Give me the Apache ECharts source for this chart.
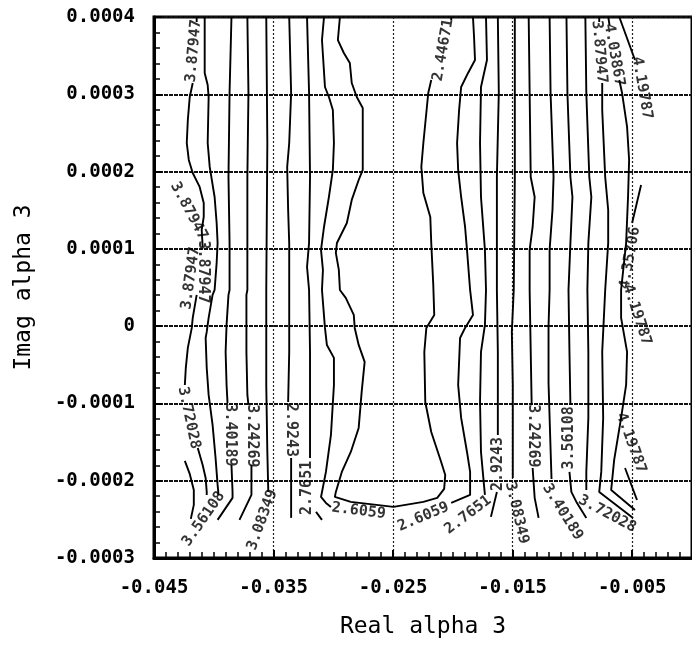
<!DOCTYPE html>
<html>
<head>
<meta charset="utf-8">
<script src="https://cdn.jsdelivr.net/npm/echarts/dist/echarts.min.js"></script>
<style>
html, body { margin: 0; padding: 0; background: #fff; }
#chart { width: 692px; height: 646px; }
</style>
</head>
<body>
<div id="chart"></div>
<script>
// Axis ranges and tick labels
const xRange = [-0.045, 0];
const xStep = 0.01;
const xTickLabels = ['-0.045', '-0.035', '-0.025', '-0.015', '-0.005', '0.005'];
const yRange = [-0.0003, 0.0004];
const yStep = 0.0001;
const yTickLabels = ['-0.0003', '-0.0002', '-0.0001', '0', '0.0001', '0.0002', '0.0003', '0.0004'];

// Contour polylines, one array per level; each level holds one or more [x, y] paths
const lvl387947West = [
  [[-0.04143, 4.000e-4], [-0.04143, 3.935e-4]],
  [[-0.04176, 3.146e-4], [-0.04201, 2.965e-4], [-0.04217, 2.668e-4], [-0.04226, 2.370e-4], [-0.04209, 2.150e-4],
   [-0.04176, 1.982e-4], [-0.04118, 1.801e-4], [-0.04084, 1.594e-4], [-0.04084, 1.413e-4], [-0.04101, 1.245e-4], [-0.04093, 1.025e-4]],
  [[-0.04242, -1.744e-4], [-0.04201, -1.912e-4], [-0.04167, -2.119e-4], [-0.04167, -2.313e-4], [-0.04192, -2.494e-4]]
];
const lvl372028West = [
  [[-0.04143, 0.404e-4], [-0.04176, 0.106e-4], [-0.04184, -0.023e-4], [-0.04217, -0.282e-4], [-0.04234, -0.541e-4], [-0.04242, -0.761e-4]],
  [[-0.04134, -1.576e-4], [-0.04093, -1.796e-4], [-0.04068, -1.964e-4], [-0.04059, -2.145e-4], [-0.04059, -2.184e-4]]
];
const lvl356108West = [
  [[-0.04076, 4.000e-4], [-0.04076, 3.276e-4], [-0.04051, 3.120e-4], [-0.04043, 2.965e-4], [-0.04051, 2.370e-4], [-0.04034, 2.060e-4],
   [-0.03993, 1.671e-4], [-0.03976, 1.335e-4], [-0.03968, 1.076e-4], [-0.03976, 0.818e-4], [-0.03993, 0.468e-4], [-0.04010, 0.404e-4],
   [-0.04043, 0.106e-4], [-0.04059, -0.075e-4], [-0.04068, -0.153e-4], [-0.04059, -0.541e-4], [-0.04043, -0.890e-4], [-0.04010, -1.278e-4],
   [-0.03985, -1.706e-4], [-0.03968, -2.054e-4], [-0.03960, -2.184e-4]]
];
const lvl340189West = [
  [[-0.03852, 4.000e-4], [-0.03868, 3.017e-4], [-0.03877, 1.930e-4], [-0.03868, 1.076e-4], [-0.03868, 0.468e-4], [-0.03877, 0.404e-4],
   [-0.03893, 0.016e-4], [-0.03901, -0.334e-4], [-0.03893, -0.761e-4], [-0.03885, -0.994e-4]],
  [[-0.03852, -1.796e-4], [-0.03843, -2.145e-4], [-0.03843, -2.222e-4], [-0.03968, -2.507e-4]]
];
const lvl324269West = [
  [[-0.03719, 4.000e-4], [-0.03710, 3.017e-4], [-0.03719, 1.930e-4], [-0.03719, 0.468e-4], [-0.03727, 0.404e-4], [-0.03727, -0.334e-4],
   [-0.03719, -0.890e-4], [-0.03710, -1.019e-4]],
  [[-0.03685, -1.796e-4], [-0.03685, -2.184e-4], [-0.03785, -2.507e-4]]
];
const lvl308349West = [
  [[-0.03561, 4.000e-4], [-0.03552, 2.370e-4], [-0.03561, 0.468e-4], [-0.03561, -0.761e-4], [-0.03552, -1.628e-4], [-0.03544, -2.145e-4]]
];
const lvl29243West = [
  [[-0.03369, 4.000e-4], [-0.03353, 3.017e-4], [-0.03369, 2.370e-4], [-0.03386, 2.060e-4], [-0.03378, 1.503e-4], [-0.03369, 1.076e-4],
   [-0.03369, 0.468e-4], [-0.03369, -0.334e-4], [-0.03378, -0.981e-4]],
  [[-0.03353, -1.706e-4], [-0.03353, -2.481e-4]]
];
const lvl27651West = [
  [[-0.03220, 4.000e-4], [-0.03203, 3.017e-4], [-0.03195, 1.930e-4], [-0.03203, 1.076e-4], [-0.03220, 0.766e-4], [-0.03203, 0.468e-4],
   [-0.03195, -0.334e-4], [-0.03195, -1.188e-4], [-0.03195, -1.706e-4]],
  [[-0.03145, -2.404e-4], [-0.03095, -2.507e-4]]
];
const lvl26059West = [
  [[-0.03078, 4.000e-4], [-0.03095, 3.702e-4], [-0.03070, 3.094e-4], [-0.03037, 2.965e-4], [-0.03004, 2.797e-4], [-0.02995, 2.370e-4],
   [-0.03004, 2.021e-4], [-0.03037, 1.671e-4], [-0.03078, 1.283e-4], [-0.03103, 0.986e-4], [-0.03087, 0.727e-4], [-0.03095, 0.468e-4],
   [-0.03070, -0.023e-4], [-0.03054, -0.243e-4], [-0.02995, -0.411e-4], [-0.02995, -0.761e-4], [-0.03020, -1.408e-4], [-0.03062, -1.886e-4],
   [-0.03103, -2.210e-4], [-0.03062, -2.287e-4], [-0.03020, -2.340e-4]]
];
const lvl244671 = [
  [[-0.02945, 4.000e-4], [-0.02962, 3.702e-4], [-0.02912, 3.534e-4], [-0.02862, 3.405e-4], [-0.02846, 3.146e-4], [-0.02804, 2.965e-4],
   [-0.02754, 2.823e-4], [-0.02754, 2.021e-4], [-0.02788, 1.891e-4], [-0.02846, 1.633e-4], [-0.02887, 1.335e-4], [-0.02970, 1.076e-4],
   [-0.02979, 0.947e-4], [-0.02954, 0.727e-4], [-0.02945, 0.468e-4], [-0.02896, 0.365e-4], [-0.02829, 0.145e-4], [-0.02821, -0.023e-4],
   [-0.02788, -0.243e-4], [-0.02738, -0.463e-4], [-0.02763, -0.851e-4], [-0.02788, -1.317e-4], [-0.02854, -1.628e-4], [-0.02929, -1.886e-4],
   [-0.02979, -2.145e-4], [-0.02987, -2.210e-4], [-0.02854, -2.274e-4], [-0.02497, -2.339e-4], [-0.02247, -2.274e-4], [-0.02131, -2.222e-4],
   [-0.02073, -2.106e-4], [-0.02064, -1.925e-4], [-0.02098, -1.757e-4], [-0.02181, -1.369e-4], [-0.02231, -0.981e-4], [-0.02239, -0.334e-4],
   [-0.02222, -0.023e-4], [-0.02156, 0.145e-4], [-0.02164, 0.533e-4], [-0.02181, 1.076e-4], [-0.02189, 1.413e-4], [-0.02247, 1.723e-4],
   [-0.02264, 2.060e-4], [-0.02247, 2.370e-4], [-0.02206, 3.017e-4], [-0.02181, 3.185e-4]],
  [[-0.02014, 3.961e-4], [-0.02014, 4.000e-4]]
];
const lvl26059East = [
  [[-0.01832, 4.000e-4], [-0.01823, 3.741e-4], [-0.01815, 3.444e-4], [-0.01873, 3.276e-4], [-0.01931, 3.094e-4], [-0.01948, 2.797e-4],
   [-0.01965, 2.370e-4], [-0.01956, 2.021e-4], [-0.01931, 1.671e-4], [-0.01898, 1.283e-4], [-0.01882, 0.986e-4], [-0.01856, 0.468e-4],
   [-0.01832, 0.145e-4], [-0.01898, -0.023e-4], [-0.01940, -0.153e-4], [-0.01956, -0.761e-4], [-0.01931, -1.188e-4], [-0.01882, -1.628e-4],
   [-0.01856, -1.886e-4], [-0.01856, -2.184e-4], [-0.02014, -2.287e-4]]
];
const lvl27651East = [
  [[-0.01723, 4.000e-4], [-0.01715, 3.444e-4], [-0.01765, 3.094e-4], [-0.01773, 2.370e-4], [-0.01765, 1.671e-4], [-0.01732, 0.986e-4],
   [-0.01723, 0.468e-4], [-0.01732, 0.016e-4], [-0.01765, -0.334e-4], [-0.01773, -0.981e-4], [-0.01765, -1.628e-4], [-0.01740, -2.054e-4],
   [-0.01732, -2.184e-4]]
];
const lvl29243East = [
  [[-0.01624, 4.000e-4], [-0.01616, 3.017e-4], [-0.01632, 1.930e-4], [-0.01632, 0.468e-4], [-0.01624, -0.334e-4], [-0.01624, -1.408e-4]],
  [[-0.01632, -2.145e-4], [-0.01682, -2.468e-4]]
];
const lvl308349East = [
  [[-0.01482, 4.000e-4], [-0.01482, 3.017e-4], [-0.01482, 1.930e-4], [-0.01491, 0.468e-4], [-0.01507, -0.075e-4], [-0.01499, -0.761e-4],
   [-0.01499, -1.964e-4]]
];
const lvl324269East = [
  [[-0.01366, 4.000e-4], [-0.01358, 3.017e-4], [-0.01349, 1.930e-4], [-0.01316, 1.671e-4], [-0.01333, 1.283e-4], [-0.01358, 0.986e-4],
   [-0.01358, 0.468e-4], [-0.01349, -0.334e-4], [-0.01341, -1.019e-4]],
  [[-0.01333, -1.835e-4], [-0.01316, -2.222e-4], [-0.01283, -2.481e-4]]
];
const lvl340189East = [
  [[-0.01191, 4.000e-4], [-0.01183, 3.017e-4], [-0.01158, 1.930e-4], [-0.01167, 1.503e-4], [-0.01191, 0.986e-4], [-0.01191, 0.468e-4],
   [-0.01200, 0.000e-4], [-0.01200, -0.735e-4], [-0.01183, -1.589e-4], [-0.01175, -1.977e-4]]
];
const lvl356108East = [
  [[-0.01050, 4.000e-4], [-0.01042, 3.017e-4], [-0.01017, 1.930e-4], [-0.01000, 1.671e-4], [-0.01017, 1.076e-4], [-0.01033, 0.468e-4],
   [-0.01025, -0.334e-4], [-0.01017, -1.019e-4]],
  [[-0.01025, -1.886e-4], [-0.01009, -2.145e-4], [-0.00967, -2.274e-4], [-0.00884, -2.481e-4]]
];
const lvl372028East = [
  [[-0.00892, 4.000e-4], [-0.00884, 3.017e-4], [-0.00859, 1.930e-4], [-0.00842, 1.671e-4], [-0.00867, 1.076e-4], [-0.00875, 0.468e-4],
   [-0.00867, -0.334e-4], [-0.00867, -1.188e-4], [-0.00884, -1.886e-4], [-0.00884, -2.119e-4]]
];
const lvl387947East = [
  [[-0.00776, 4.000e-4], [-0.00776, 3.935e-4]],
  [[-0.00751, 3.146e-4], [-0.00751, 2.797e-4], [-0.00726, 1.930e-4], [-0.00701, 1.503e-4], [-0.00701, 1.076e-4], [-0.00726, 0.468e-4],
   [-0.00751, -0.334e-4], [-0.00743, -1.188e-4], [-0.00759, -1.886e-4], [-0.00776, -2.145e-4], [-0.00493, -2.481e-4]]
];
const lvl403867 = [
  [[-0.00700, 4.000e-4], [-0.00690, 3.896e-4]],
  [[-0.00608, 3.185e-4], [-0.00585, 3.017e-4], [-0.00543, 2.577e-4], [-0.00526, 2.150e-4], [-0.00535, 1.671e-4], [-0.00551, 1.076e-4],
   [-0.00593, 0.468e-4], [-0.00593, 0.106e-4], [-0.00543, -0.334e-4], [-0.00551, -0.761e-4], [-0.00593, -1.188e-4], [-0.00651, -1.731e-4],
   [-0.00676, -2.119e-4], [-0.00477, -2.378e-4]]
];
const lvl419787 = [
  [[-0.00608, 4.000e-4], [-0.00477, 3.444e-4]],
  [[-0.00560, -1.835e-4], [-0.00460, -2.250e-4]]
];
const lvl435706 = [
  [[-0.00426, 1.827e-4], [-0.00501, 1.335e-4]]
];

// Level labels: [x, y, text]
const contourLabels = [
  [-0.04168, 3.560e-4, '3.87947'],
  [-0.04209, 1.490e-4, '3.87947'],
  [-0.04192, 0.620e-4, '3.87947'],
  [-0.04093, 0.700e-4, '3.87947'],
  [-0.04209, -1.188e-4, '3.72028'],
  [-0.04084, -2.494e-4, '3.56108'],
  [-0.03868, -1.408e-4, '3.40189'],
  [-0.03685, -1.421e-4, '3.24269'],
  [-0.03594, -2.507e-4, '3.08349'],
  [-0.03353, -1.343e-4, '2.9243'],
  [-0.03220, -2.093e-4, '2.7651'],
  [-0.02788, -2.391e-4, '2.6059'],
  [-0.02081, 3.573e-4, '2.44671'],
  [-0.02247, -2.468e-4, '2.6059'],
  [-0.01873, -2.443e-4, '2.7651'],
  [-0.01624, -1.783e-4, '2.9243'],
  [-0.01466, -2.417e-4, '3.08349'],
  [-0.01333, -1.421e-4, '3.24269'],
  [-0.01083, -2.404e-4, '3.40189'],
  [-0.01025, -1.446e-4, '3.56108'],
  [-0.00709, -2.430e-4, '3.72028'],
  [-0.00776, 3.547e-4, '3.87947'],
  [-0.00651, 3.508e-4, '4.03867'],
  [-0.00418, 3.081e-4, '4.19787'],
  [-0.00518, 0.882e-4, '4.35706'],
  [-0.00460, 0.145e-4, '4.19787'],
  [-0.00510, -1.511e-4, '4.19787']
];
// Text angle of each label (degrees, counter-clockwise)
const contourLabelAngles = [85, -62, 82, -90, -78, 55, -90, -90, 70, -90, 90, -7, 80, 23, 37, 90, -77, -90, -58, 90, -28, -85, -80, -80, 80, -72, -70];

const contourLevels = [
  lvl387947West, lvl372028West, lvl356108West, lvl340189West, lvl324269West, lvl308349West,
  lvl29243West, lvl27651West, lvl26059West, lvl244671, lvl26059East, lvl27651East, lvl29243East,
  lvl308349East, lvl324269East, lvl340189East, lvl356108East, lvl372028East, lvl387947East,
  lvl403867, lvl419787, lvl435706
];

const monoFont = "'DejaVu Sans Mono', 'Liberation Mono', monospace";

const series = [];
contourLevels.forEach(level => {
  level.forEach(path => {
    series.push({
      type: 'line',
      data: path,
      showSymbol: false,
      symbol: 'none',
      silent: true,
      animation: false,
      clip: true,
      lineStyle: { color: '#000', width: 1.9 },
      z: 3
    });
  });
});

series.push({
  type: 'scatter',
  silent: true,
  animation: false,
  symbolSize: 1,
  itemStyle: { color: 'rgba(0,0,0,0)' },
  z: 4,
  data: contourLabels.map((d, i) => ({
    value: [d[0], d[1]],
    label: {
      show: true,
      position: 'inside',
      formatter: d[2],
      rotate: contourLabelAngles[i],
      fontFamily: monoFont,
      fontWeight: 'bold',
      fontSize: 15,
      color: '#000'
    }
  }))
});

const chart = echarts.init(document.getElementById('chart'), null, { renderer: 'canvas' });
chart.setOption({
  animation: false,
  backgroundColor: '#fff',
  grid: {
    left: 154, top: 17, width: 540, height: 541,
    show: true, borderColor: '#000', borderWidth: 3, backgroundColor: 'transparent'
  },
  xAxis: {
    type: 'value',
    min: xRange[0], max: xRange[1], interval: xStep,
    name: 'Real alpha 3',
    nameLocation: 'middle',
    nameGap: 58,
    nameTextStyle: { fontFamily: monoFont, fontSize: 23, color: '#000' },
    axisLine: { show: true, onZero: false, lineStyle: { color: '#000', width: 3 } },
    axisTick: { show: true, inside: true, length: 8, lineStyle: { color: '#000', width: 2 } },
    minorTick: { show: true, splitNumber: 10, length: 6, lineStyle: { color: '#000', width: 1.5 } },
    splitLine: { show: true, lineStyle: { color: '#222', width: 1.2, type: [2, 2] } },
    axisLabel: {
      margin: 21, showMaxLabel: false,
      fontFamily: monoFont, fontWeight: 'bold', fontSize: 19, color: '#000',
      formatter: v => xTickLabels[Math.round((v - xRange[0]) / xStep)]
    }
  },
  yAxis: {
    type: 'value',
    min: yRange[0], max: yRange[1], interval: yStep,
    name: 'Imag alpha 3',
    nameLocation: 'middle',
    nameGap: 118,
    nameTextStyle: { fontFamily: monoFont, fontSize: 23, color: '#000' },
    axisLine: { show: true, onZero: false, lineStyle: { color: '#000', width: 3 } },
    axisTick: { show: true, inside: true, length: 8, lineStyle: { color: '#000', width: 2 } },
    minorTick: { show: true, splitNumber: 5, length: 6, lineStyle: { color: '#000', width: 1.5 } },
    splitLine: { show: true, lineStyle: { color: '#111', width: 2, type: [4, 1] } },
    axisLabel: {
      margin: 19,
      fontFamily: monoFont, fontWeight: 'bold', fontSize: 19, color: '#000',
      formatter: v => yTickLabels[Math.round((v - yRange[0]) / yStep)]
    }
  },
  series: series
});
</script>
</body>
</html>
